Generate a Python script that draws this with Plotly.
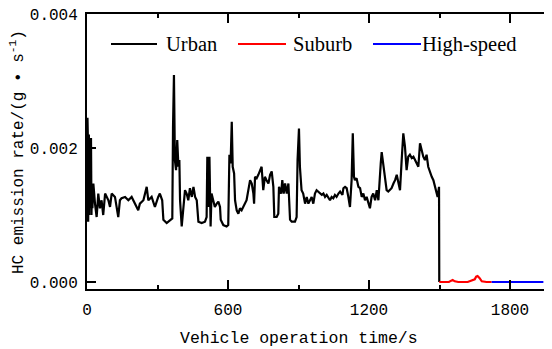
import plotly.graph_objects as go

# ---------------- data ----------------
urban_t = [0, 1, 2, 3, 4, 5, 6, 7, 8, 9, 10, 12, 14, 15, 17, 19, 21, 23, 25,
           27, 34, 41, 48, 55, 62, 69, 77, 91, 98, 105, 119, 133, 140, 147, 162,
           176, 190, 204, 218, 225, 240, 254, 261, 275, 289, 303, 310, 320, 325,
           339, 353, 363, 366, 370, 374, 379, 384, 389, 393, 396, 403, 410, 417,
           424, 431, 438, 446, 453, 460, 467, 474, 488, 502, 509, 512, 516, 521,
           526, 530, 537, 544, 552, 559, 566, 569, 580, 594, 601, 606, 611, 616,
           620, 626, 630, 637, 644, 651, 658, 665, 679, 694, 701, 708, 711, 715,
           722, 729, 736, 743, 750, 757, 764, 772, 779, 786, 793, 797, 807, 814,
           817, 826, 831, 837, 843, 850, 857, 860, 864, 871, 885, 892, 896, 902,
           906, 913, 920, 928, 935, 942, 949, 956, 963, 970, 977, 984, 991, 999,
           1006, 1013, 1020, 1027, 1034, 1041, 1048, 1055, 1062, 1070, 1077, 1087,
           1091, 1098, 1105, 1112, 1119, 1126, 1131, 1136, 1140, 1147, 1155, 1162,
           1169, 1176, 1183, 1190, 1197, 1204, 1211, 1218, 1226, 1233, 1240, 1244,
           1250, 1254, 1261, 1268, 1275, 1282, 1289, 1296, 1304, 1311, 1318, 1325,
           1332, 1339, 1346, 1353, 1360, 1367, 1374, 1382, 1389, 1396, 1403, 1410,
           1417, 1424, 1431, 1438, 1445, 1452, 1460, 1467, 1474, 1481, 1488, 1492,
           1498, 1499]
urban_v = [0.00090, 0.00160, 0.00245, 0.00120, 0.00210, 0.00090, 0.00190, 0.00110,
           0.00220, 0.00100, 0.00170, 0.00120, 0.00200, 0.00110, 0.00215, 0.00100,
           0.00140, 0.00110, 0.00130,
           0.00147, 0.00117, 0.00097, 0.00132, 0.00110, 0.00122, 0.00100, 0.00132,
           0.00122, 0.00112, 0.00132, 0.00127, 0.00097, 0.00122, 0.00125, 0.00127,
           0.00122, 0.00127, 0.00117, 0.00107, 0.00117, 0.00122, 0.00142, 0.00122,
           0.00127, 0.00112, 0.00127, 0.00132, 0.00122, 0.00093, 0.00088, 0.00093,
           0.00095, 0.00230, 0.00309, 0.00182, 0.00167, 0.00212, 0.00172, 0.00182,
           0.00122, 0.00083, 0.00112, 0.00137, 0.00132, 0.00122, 0.00140, 0.00127,
           0.00142, 0.00127, 0.00122, 0.00090, 0.00088, 0.00090, 0.00097, 0.00187,
           0.00112, 0.00187, 0.00083, 0.00132, 0.00122, 0.00112, 0.00117, 0.00120,
           0.00112, 0.00093, 0.00085, 0.00083, 0.00085, 0.00190, 0.00177, 0.00239,
           0.00172, 0.00162, 0.00122, 0.00107, 0.00102, 0.00110, 0.00107, 0.00112,
           0.00122, 0.00152, 0.00147, 0.00132, 0.00117, 0.00157, 0.00155, 0.00160,
           0.00167, 0.00172, 0.00137, 0.00157, 0.00152, 0.00147, 0.00160, 0.00165,
           0.00142, 0.00097, 0.00097, 0.00102, 0.00142, 0.00132, 0.00152, 0.00132,
           0.00147, 0.00132, 0.00147, 0.00122, 0.00093, 0.00090, 0.00090, 0.00097,
           0.00182, 0.00229, 0.00172, 0.00137, 0.00132, 0.00117, 0.00127, 0.00117,
           0.00122, 0.00127, 0.00117, 0.00132, 0.00137, 0.00135, 0.00132, 0.00130,
           0.00132, 0.00127, 0.00130, 0.00125, 0.00122, 0.00127, 0.00125, 0.00130,
           0.00127, 0.00132, 0.00135, 0.00130,
           0.00140, 0.00142, 0.00140, 0.00127, 0.00112, 0.00152, 0.00222, 0.00157,
           0.00152, 0.00155, 0.00142, 0.00140, 0.00127, 0.00132, 0.00122, 0.00127,
           0.00117, 0.00110, 0.00127, 0.00132, 0.00122, 0.00137, 0.00122, 0.00152,
           0.00177, 0.00194, 0.00172, 0.00157, 0.00137, 0.00135, 0.00137, 0.00140,
           0.00147, 0.00152, 0.00160, 0.00147, 0.00137, 0.00182, 0.00222, 0.00202,
           0.00167, 0.00187, 0.00190, 0.00185, 0.00187, 0.00182, 0.00177, 0.00172,
           0.00207, 0.00197, 0.00187, 0.00182, 0.00190, 0.00172, 0.00162, 0.00157,
           0.00152, 0.00142, 0.00132, 0.00127, 0.00142, 0.00000]

suburb_t = [1499, 1520, 1540, 1550, 1556, 1565, 1580, 1620, 1640, 1650, 1656,
            1662, 1670, 1680, 1700, 1722]
suburb_v = [0.00000, 0.00000, 0.00000, 0.00002, 0.00003, 0.00001, 0.00000,
            0.00000, 0.00002, 0.00004, 0.00008, 0.00009, 0.00006, 0.00001,
            0.00000, 0.00000]

highspeed_t = [1722, 1760, 1800, 1850, 1900, 1942]
highspeed_v = [0.00000, 0.00000, 0.00000, 0.00000, 0.00000, 0.00000]

series_names = ["Urban", "Suburb", "High-speed"]
series_colors = ["#000000", "#ff0000", "#0000ff"]

x_tickvals = [0, 600, 1200, 1800]
y_tickvals = [0.000, 0.002, 0.004]
y_ticktext = ["0.000", "0.002", "0.004"]

# ---------------- layout geometry ----------------
# the page places the plot 8 px in from the window's top-left corner
OFF = 8
W, H = 552 - OFF, 349 - OFF
L, R, T, B = 87 - OFF, 0, 14 - OFF, 60
PW, PH = W - L - R, H - T - B


def px(x):
    """window pixel x -> paper fraction"""
    return (x - OFF - L) / PW


def py(y):
    """window pixel y -> paper fraction"""
    return (H - B - (y - OFF)) / PH


fig = go.Figure()
for t, v, c, n in zip([urban_t, suburb_t, highspeed_t],
                      [urban_v, suburb_v, highspeed_v],
                      series_colors, series_names):
    fig.add_trace(go.Scatter(x=t, y=v, mode="lines", name=n,
                             line=dict(color=c, width=2.2), showlegend=False))

tick_font = dict(family="Liberation Mono", size=16, color="black")

fig.update_xaxes(range=[0, 1978.7], tickvals=x_tickvals, ticks="inside",
                 ticklen=9, tickwidth=2, tickcolor="black",
                 minor=dict(dtick=300, tick0=0, ticks="inside", ticklen=4,
                            tickwidth=2, tickcolor="black"),
                 showline=True, linewidth=2, linecolor="black", mirror="ticks",
                 showgrid=False, zeroline=False, tickfont=tick_font,
                 ticklabelstandoff=5)
fig.update_yaxes(range=[-0.0001045, 0.0040005], tickvals=y_tickvals,
                 ticktext=y_ticktext, ticks="inside", ticklen=9, tickwidth=2,
                 tickcolor="black", showline=True, linewidth=2,
                 linecolor="black", mirror=False, showgrid=False,
                 zeroline=False, tickfont=tick_font, ticklabelstandoff=4,
                 ticklabeloverflow="allow")

annotations = [
    dict(text="Vehicle operation time/s", x=px(299), y=py(338), xref="paper",
         yref="paper", showarrow=False, xanchor="center", yanchor="middle",
         font=dict(family="Liberation Mono", size=16.5, color="black")),
    dict(text="HC emission rate/(g • s<sup>-1</sup>)", x=px(17), y=py(152),
         xref="paper", yref="paper", showarrow=False, textangle=-90,
         xanchor="center", yanchor="middle",
         font=dict(family="Liberation Mono", size=16, color="black")),
]
shapes = []
legend_lines = [(111, 157), (238, 286), (373, 421)]
legend_text_x = [164, 291, 420]
for (x0, x1), tx, c, n in zip(legend_lines, legend_text_x, series_colors,
                              series_names):
    shapes.append(dict(type="line", xref="paper", yref="paper", x0=px(x0),
                       x1=px(x1), y0=py(44), y1=py(44),
                       line=dict(color=c, width=2)))
    annotations.append(dict(text=n, x=px(tx), y=py(44), xref="paper",
                            yref="paper", showarrow=False, xanchor="left",
                            yanchor="middle",
                            font=dict(family="Liberation Serif", size=20.5,
                                      color="black")))

fig.update_layout(width=W, height=H,
                  margin=dict(l=L, r=R, t=T, b=B, pad=0),
                  paper_bgcolor="white", plot_bgcolor="white",
                  annotations=annotations, shapes=shapes, showlegend=False)

fig.write_html("out.html")
